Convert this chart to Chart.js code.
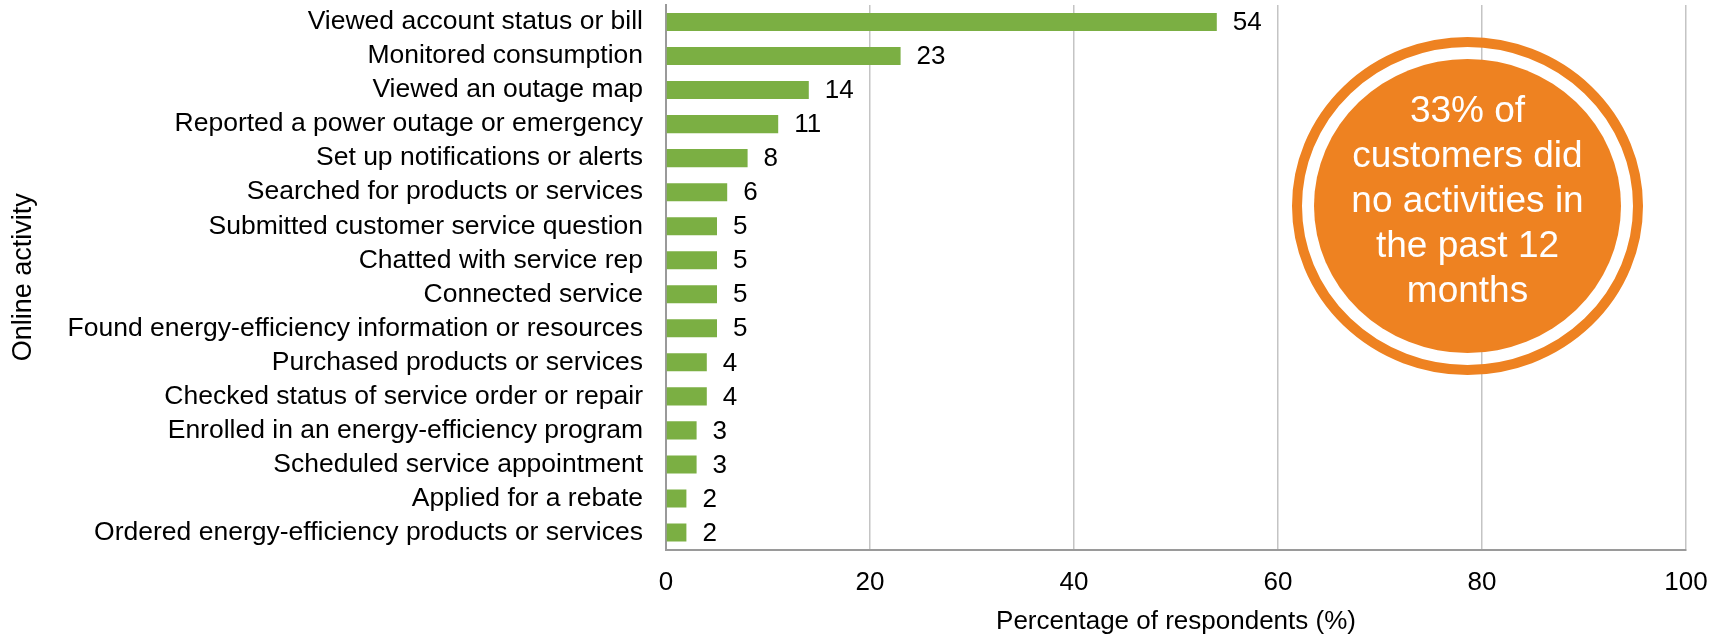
<!DOCTYPE html>
<html lang="en">
<head>
  <meta charset="UTF-8">
  <title>Online activity</title>
  <script src="https://cdn.jsdelivr.net/npm/chart.js"></script>
  <style>
    html, body { margin: 0; padding: 0; background: #fff; }
    canvas { display: block; }
  </style>
</head>
<body>
  <canvas id="graficoAtividades" width="1723" height="635"></canvas>

  <script>
    // Activities and share of respondents (%)
    const atividades = [
      'Viewed account status or bill',
      'Monitored consumption',
      'Viewed an outage map',
      'Reported a power outage or emergency',
      'Set up notifications or alerts',
      'Searched for products or services',
      'Submitted customer service question',
      'Chatted with service rep',
      'Connected service',
      'Found energy-efficiency information or resources',
      'Purchased products or services',
      'Checked status of service order or repair',
      'Enrolled in an energy-efficiency program',
      'Scheduled service appointment',
      'Applied for a rebate',
      'Ordered energy-efficiency products or services'
    ];
    const percentuais = [54, 23, 14, 11, 8, 6, 5, 5, 5, 5, 4, 4, 3, 3, 2, 2];
    const ticksX = [0, 20, 40, 60, 80, 100];

    // Callout text inside the orange circle
    const textoCirculo = ['33% of', 'customers did', 'no activities in', 'the past 12', 'months'];

    const fonte = '"Liberation Sans", Arial, Helvetica, sans-serif';
    const verde = '#7BAF43';
    const laranja = '#EE8221';

    // Value printed just after the end of each bar
    const rotulosValores = {
      id: 'rotulosValores',
      afterDatasetsDraw(chart) {
        const ctx = chart.ctx;
        const meta = chart.getDatasetMeta(0);
        ctx.save();
        ctx.font = '26px ' + fonte;
        ctx.fillStyle = '#000';
        ctx.textAlign = 'left';
        ctx.textBaseline = 'middle';
        meta.data.forEach((barra, i) => {
          ctx.fillText(String(percentuais[i]), barra.x + 16, barra.y + 1);
        });
        ctx.restore();
      }
    };

    // Orange ring + disc with the "no activities" note
    const circuloDestaque = {
      id: 'circuloDestaque',
      afterDraw(chart) {
        const ctx = chart.ctx;
        const cx = 1467.5, cy = 206;
        ctx.save();
        ctx.strokeStyle = laranja;
        ctx.lineWidth = 10;
        ctx.beginPath();
        ctx.ellipse(cx, cy, 170.5, 164, 0, 0, Math.PI * 2);
        ctx.stroke();

        ctx.fillStyle = laranja;
        ctx.beginPath();
        ctx.ellipse(cx, cy, 153.5, 147, 0, 0, Math.PI * 2);
        ctx.fill();

        ctx.fillStyle = '#fff';
        ctx.font = '37px ' + fonte;
        ctx.textAlign = 'center';
        ctx.textBaseline = 'alphabetic';
        textoCirculo.forEach((linha, i) => {
          ctx.fillText(linha, cx, 122 + i * 45);
        });
        ctx.restore();
      }
    };

    const ctx = document.getElementById('graficoAtividades').getContext('2d');
    const grafico = new Chart(ctx, {
      type: 'bar',
      data: {
        labels: atividades,
        datasets: [{
          label: 'Percentage of respondents (%)',
          data: percentuais,
          backgroundColor: verde,
          borderWidth: 0,
          barPercentage: 0.53,
          categoryPercentage: 1.0
        }]
      },
      options: {
        indexAxis: 'y',
        responsive: false,
        animation: false,
        layout: { padding: { top: 5, right: 37, bottom: 0, left: 0 } },
        plugins: {
          legend: { display: false },
          tooltip: { enabled: false }
        },
        scales: {
          x: {
            min: 0,
            max: 100,
            afterBuildTicks(scale) {
              scale.ticks = ticksX.map(v => ({ value: v }));
            },
            afterFit(scale) {
              scale.height = 85.5;
              scale.paddingLeft = 0;
              scale.paddingRight = 0;
            },
            grid: { color: '#C4C4C4', lineWidth: 1.5, drawTicks: false },
            border: { color: '#9A9A9A', width: 2 },
            ticks: {
              padding: 18,
              color: '#000',
              font: { family: fonte, size: 26 }
            },
            title: {
              display: true,
              text: 'Percentage of respondents (%)',
              color: '#000',
              font: { family: fonte, size: 26, lineHeight: 1.0 },
              padding: { top: 0, bottom: 0 }
            }
          },
          y: {
            afterFit(scale) {
              scale.width = 666;
              scale.paddingTop = 0;
              scale.paddingBottom = 0;
            },
            grid: { display: false, drawTicks: false },
            border: { color: '#9A9A9A', width: 2 },
            ticks: {
              autoSkip: false,
              padding: 23,
              color: '#000',
              font: { family: fonte, size: 26.5 }
            },
            title: {
              display: true,
              text: 'Online activity',
              color: '#000',
              font: { family: fonte, size: 27 },
              padding: { top: 7, bottom: 4 }
            }
          }
        }
      },
      plugins: [rotulosValores, circuloDestaque]
    });
  </script>
</body>
</html>
